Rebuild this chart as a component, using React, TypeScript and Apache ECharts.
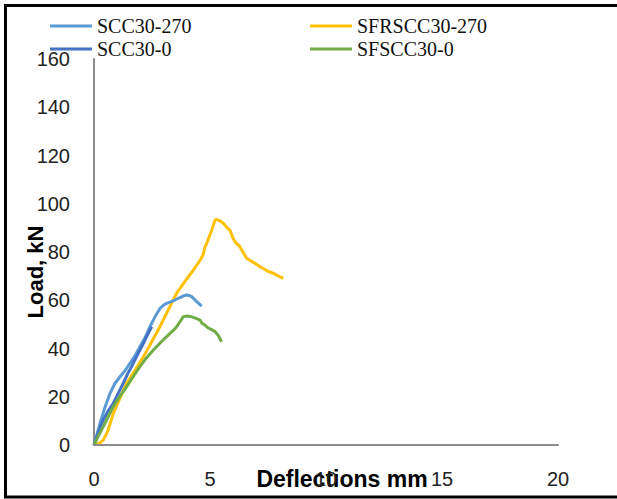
import React, { useEffect, useRef } from "react";
import * as echarts from "echarts";

const seriesNames = ["SCC30-270", "SFRSCC30-270", "SCC30-0", "SFSCC30-0"];
const seriesColors = ["#5B9BD5", "#FFC000", "#4472C4", "#70AD47"];

const scc30_270: number[][] = [
  [0, 0], [0.1, 3.5], [0.26, 9], [0.45, 15], [0.69, 21.4], [0.9, 25.5], [1.12, 28.3], [1.35, 31],
  [1.55, 33.9], [1.8, 37.5], [1.98, 40.7], [2.2, 44.5], [2.41, 49], [2.65, 53.5], [2.84, 56.6],
  [3.0, 58], [3.13, 58.7], [3.3, 59.3], [3.49, 60.1], [3.75, 61.3], [3.9, 62], [4.0, 62.2],
  [4.1, 62], [4.21, 61.5], [4.32, 60.5], [4.43, 59.4], [4.64, 57.6],
];

const sfrscc30_270: number[][] = [
  [0, 0], [0.2, 0.5], [0.4, 2], [0.6, 6], [0.83, 13], [1.1, 19], [1.41, 25.6], [1.8, 31.5],
  [2.13, 36.6], [2.5, 43], [2.84, 49], [3.2, 56], [3.56, 62.9], [3.9, 67.5], [4.28, 72.5],
  [4.6, 77], [4.71, 79], [4.78, 82], [4.86, 83.6], [5.05, 88.5], [5.22, 93.3], [5.29, 93.5],
  [5.45, 92.8], [5.57, 91.9], [5.75, 90], [5.86, 89.1], [6.0, 85.5], [6.1, 84], [6.29, 82.2],
  [6.45, 79.5], [6.58, 77.4], [6.9, 75.5], [7.16, 73.9], [7.5, 72], [7.73, 71.2], [8.0, 69.8],
  [8.16, 69.1],
];

const scc30_0: number[][] = [
  [0, 0], [0.12, 3.4], [0.25, 7], [0.4, 10.4], [0.6, 14], [0.83, 17.3], [1.05, 21.5], [1.26, 25.6],
  [1.45, 29.5], [1.62, 32.5], [1.8, 36], [1.98, 39.4], [2.15, 42.5], [2.27, 44.9], [2.4, 47.5],
  [2.49, 49],
];

const sfscc30_0: number[][] = [
  [0, 0], [0.2, 4], [0.4, 7.6], [0.6, 11.5], [0.83, 15.9], [1.1, 20], [1.41, 24.2], [1.7, 28.5],
  [1.98, 32.5], [2.25, 36], [2.56, 39.4], [2.9, 42.8], [3.28, 46.3], [3.45, 47.8], [3.56, 49],
  [3.7, 51], [3.85, 53.2], [4.0, 53.5], [4.14, 53.3], [4.35, 52.7], [4.57, 51.8], [4.65, 50.5],
  [4.78, 49.7], [4.93, 48.4], [5.1, 47.7], [5.22, 47], [5.35, 45.5], [5.5, 42.8],
];

const seriesData = [scc30_270, sfrscc30_270, scc30_0, sfscc30_0];

const xTitle = "Deflections mm";
const yTitle = "Load, kN";

export default function App() {
  const ref = useRef<HTMLDivElement>(null);
  useEffect(() => {
    if (!ref.current) return;
    const chart = echarts.init(ref.current, null, { renderer: "svg" });
    const tickFont = { fontFamily: "Liberation Sans, Arial, sans-serif", fontSize: 20, color: "#222" };
    const legendText = { fontFamily: "Liberation Serif, Times New Roman, serif", fontSize: 20, color: "#111", lineHeight: 20 };
    chart.setOption({
      animation: false,
      backgroundColor: "#fff",
      grid: { left: 94, right: 59, top: 59, bottom: 54, containLabel: false },
      legend: [
        {
          data: [seriesNames[0], seriesNames[2]],
          orient: "vertical", left: 50, top: 16, icon: "rect", itemWidth: 42, itemHeight: 3,
          itemGap: 3, textStyle: legendText, padding: 0,
        },
        {
          data: [seriesNames[1], seriesNames[3]],
          orient: "vertical", left: 310, top: 16, icon: "rect", itemWidth: 42, itemHeight: 3,
          itemGap: 3, textStyle: legendText, padding: 0,
        },
      ],
      xAxis: {
        type: "value", min: 0, max: 20, interval: 5, z: 5,
        axisLine: { show: true, lineStyle: { color: "#8c8c8c", width: 2 } },
        axisTick: { show: false },
        splitLine: { show: false },
        axisLabel: { ...tickFont, margin: 24 },
      },
      yAxis: {
        type: "value", min: 0, max: 160, interval: 20,
        axisLine: { show: true, lineStyle: { color: "#8c8c8c", width: 2 } },
        axisTick: { show: false },
        splitLine: { show: false },
        axisLabel: { ...tickFont, margin: 24 },
      },
      graphic: [
        { type: "line", shape: { x1: 4, y1: 5.5, x2: 617, y2: 5.5 }, style: { stroke: "#000", lineWidth: 3 } },
        { type: "line", shape: { x1: 5.5, y1: 4, x2: 5.5, y2: 498 }, style: { stroke: "#000", lineWidth: 3 } },
        { type: "line", shape: { x1: 4, y1: 497, x2: 617, y2: 497 }, style: { stroke: "#000", lineWidth: 3 } },
        {
          type: "text", x: 342, y: 479, z: 0,
          style: { text: xTitle, font: "bold 23px Liberation Sans, Arial, sans-serif", fill: "#000", align: "center", verticalAlign: "middle" },
        },
        {
          type: "text", x: 35, y: 272, rotation: Math.PI / 2, z: 0,
          style: { text: yTitle, font: "bold 22px Liberation Sans, Arial, sans-serif", fill: "#000", align: "center", verticalAlign: "middle" },
        },
      ],
      series: seriesNames.map((name, i) => ({
        name,
        type: "line",
        data: seriesData[i],
        showSymbol: false,
        symbol: "none",
        lineStyle: { color: seriesColors[i], width: 3 },
        itemStyle: { color: seriesColors[i] },
        z: i === 1 ? 1 : 2,
      })),
    });
    return () => chart.dispose();
  }, []);
  return <div ref={ref} style={{ position: "fixed", left: 0, top: 0, width: 617, height: 499 }} />;
}
